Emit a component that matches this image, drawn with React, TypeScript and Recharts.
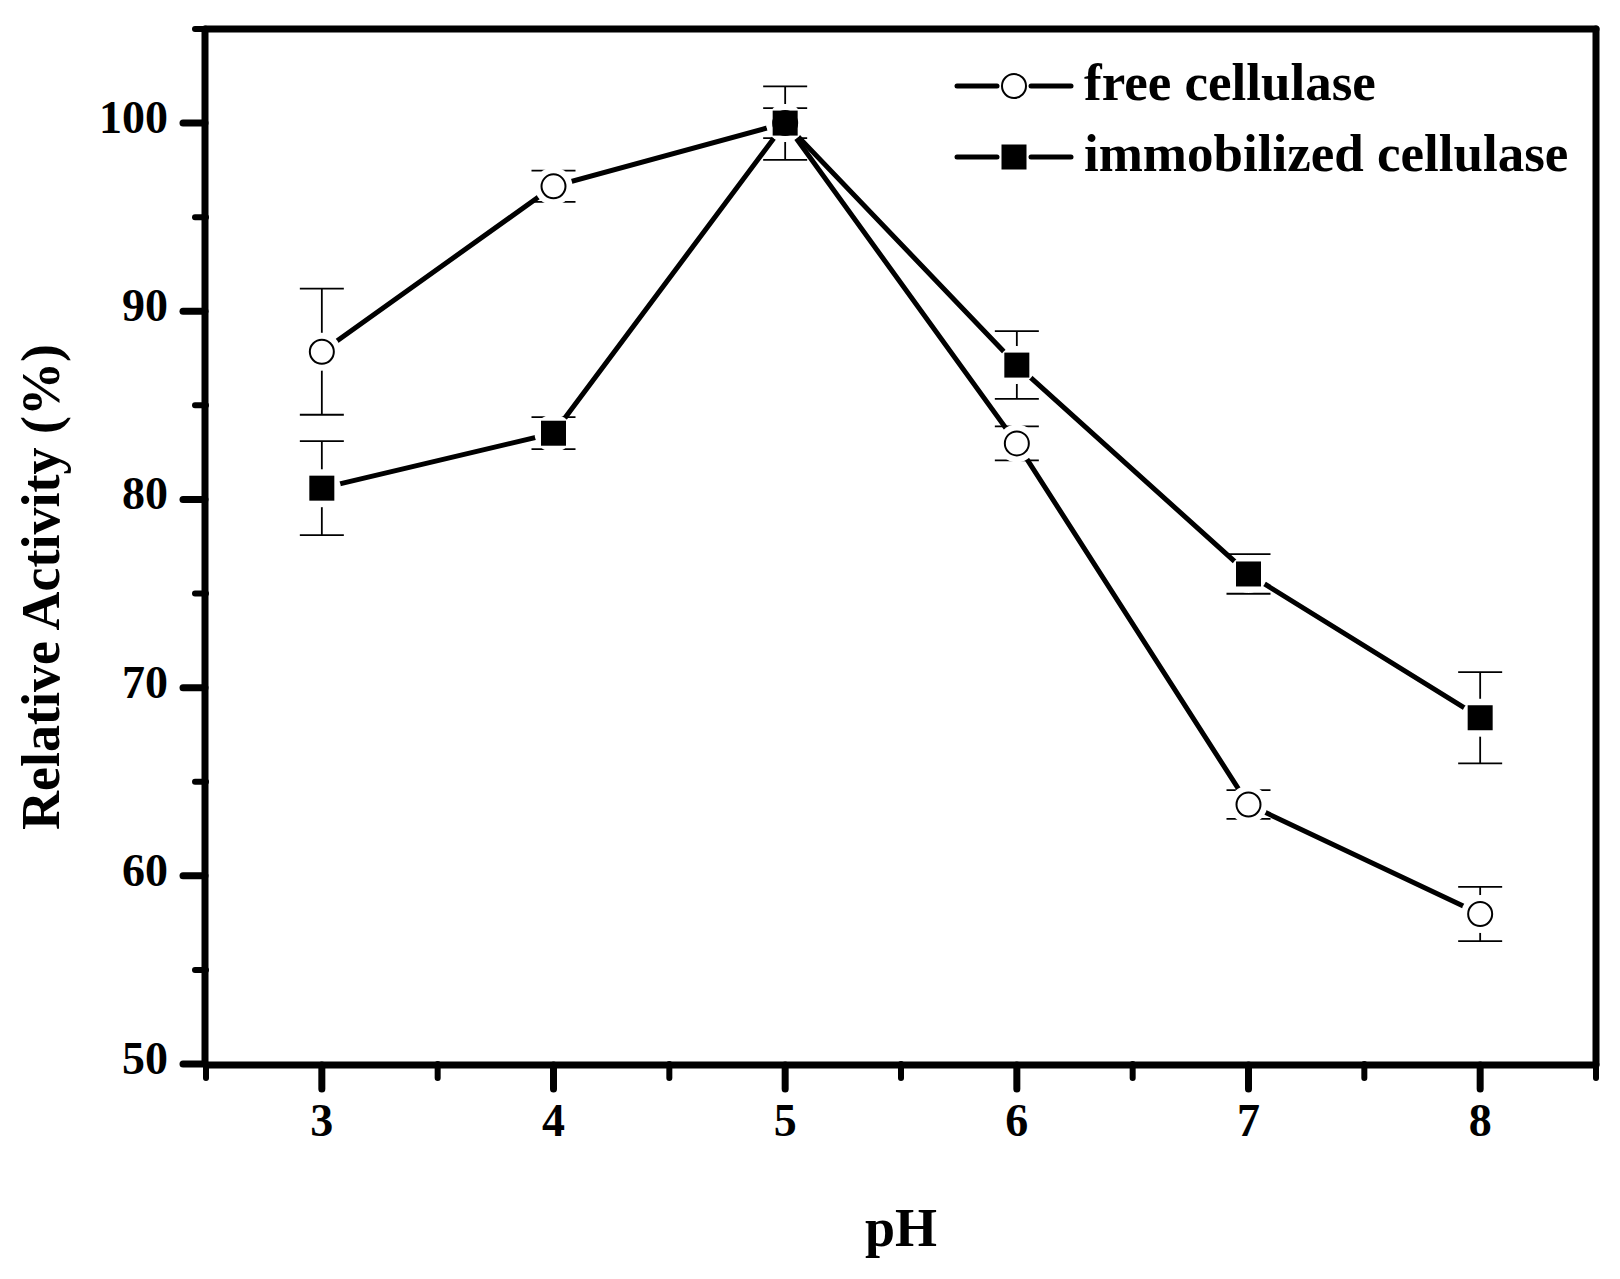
import React from 'react';
import { LineChart, Line, XAxis, YAxis, ErrorBar, Label } from 'recharts';

const phValues = [3, 4, 5, 6, 7, 8];
const freeActivity = [87.85, 96.64, 100, 82.98, 63.79, 57.97];
const freeError = [3.35, 0.83, 1.95, 0.9, 0.76, 1.44];
const immobilizedActivity = [80.6, 83.52, 100, 87.14, 76.04, 68.4];
const immobilizedError = [2.5, 0.85, 0.8, 1.8, 1.05, 2.42];

const xMajorTicks = [3, 4, 5, 6, 7, 8];
const xMinorTicks = [2.5, 3.5, 4.5, 5.5, 6.5, 7.5, 8.5];
const yMajorTicks = [50, 60, 70, 80, 90, 100];
const yMinorTicks = [55, 65, 75, 85, 95, 105];

const seriesNames = ['free cellulase', 'immobilized cellulase'];

const data = phValues.map((ph, i) => ({
  ph,
  free: freeActivity[i],
  freeErr: freeError[i],
  imm: immobilizedActivity[i],
  immErr: immobilizedError[i],
}));

const FONT = '"Liberation Serif", "Times New Roman", serif';
const X_DOMAIN: [number, number] = [2.5, 8.5];
const Y_DOMAIN: [number, number] = [50, 105];
const AXIS_LINE = { stroke: '#000', strokeWidth: 7, strokeLinecap: 'round' as const };
const TICK_LINE = { stroke: '#000', strokeWidth: 7, strokeLinecap: 'round' as const };
const MINOR_TICK_LINE = { stroke: '#000', strokeWidth: 6, strokeLinecap: 'round' as const };

const haloDot = (props: any) => {
  const { cx, cy, index } = props;
  if (cx == null || cy == null) return <g key={`h${index}`} />;
  return <circle key={`h${index}`} cx={cx} cy={cy} r={19} fill="#fff" stroke="none" />;
};

const circleDot = (props: any) => {
  const { cx, cy, index } = props;
  if (cx == null || cy == null) return <g key={`c${index}`} />;
  return <circle key={`c${index}`} cx={cx} cy={cy} r={12} fill="#fff" stroke="#000" strokeWidth={2} />;
};

const squareDot = (props: any) => {
  const { cx, cy, index } = props;
  if (cx == null || cy == null) return <g key={`s${index}`} />;
  return <rect key={`s${index}`} x={cx - 12.5} y={cy - 12.5} width={25} height={25} fill="#000" />;
};

const NoTick = () => <g />;

const XTick = (props: any) => {
  const { x, y, payload } = props;
  return (
    <text x={x} y={y} dy={32} textAnchor="middle" fill="#000" fontSize={46} fontWeight="bold" fontFamily={FONT}>
      {payload.value}
    </text>
  );
};

const YTick = (props: any) => {
  const { x, y, payload } = props;
  return (
    <text x={x} y={y} dy={10} textAnchor="end" fill="#000" fontSize={46} fontWeight="bold" fontFamily={FONT}>
      {payload.value}
    </text>
  );
};

const YTitle = () => (
  <text
    x={59}
    y={587}
    transform="rotate(-90 59 587)"
    textAnchor="middle"
    fill="#000"
    fontSize={54}
    fontWeight="bold"
    fontFamily={FONT}
  >
    Relative Activity (%)
  </text>
);

const LegendOverlay = () => (
  <svg width={1620} height={1279} style={{ position: 'absolute', left: 0, top: 0, pointerEvents: 'none' }}>
    <g>
      <line x1={957} y1={86} x2={997} y2={86} stroke="#000" strokeWidth={5} strokeLinecap="round" />
      <line x1={1031} y1={86} x2={1071} y2={86} stroke="#000" strokeWidth={5} strokeLinecap="round" />
      <circle cx={1014} cy={86} r={12} fill="#fff" stroke="#000" strokeWidth={2} />
      <text x={1084} y={100} fill="#000" fontSize={53} fontWeight="bold" fontFamily={FONT}>
        {seriesNames[0]}
      </text>
    </g>
    <g>
      <line x1={957} y1={157} x2={997} y2={157} stroke="#000" strokeWidth={5} strokeLinecap="round" />
      <line x1={1031} y1={157} x2={1071} y2={157} stroke="#000" strokeWidth={5} strokeLinecap="round" />
      <rect x={1001.5} y={144.5} width={25} height={25} fill="#000" />
      <text x={1084} y={171} fill="#000" fontSize={53} fontWeight="bold" fontFamily={FONT}>
        {seriesNames[1]}
      </text>
    </g>
  </svg>
);

export default function App() {
  return (
    <div style={{ position: 'absolute', left: 0, top: 0, width: 1620, height: 1279, background: '#fff' }}>
      <LineChart
        width={1620}
        height={1279}
        data={data}
        margin={{ top: 28, right: 23, bottom: 134, left: 0 }}
      >
        {/* default axes (id 0): minor ticks, sit on the plot edge */}
        <XAxis
          dataKey="ph"
          type="number"
          domain={X_DOMAIN}
          ticks={xMinorTicks}
          interval={0}
          height={1}
          axisLine={false}
          tick={<NoTick />}
          tickSize={14}
          stroke="#000"
          strokeWidth={6}
          tickLine={MINOR_TICK_LINE}
          allowDataOverflow
        />
        <YAxis
          type="number"
          domain={Y_DOMAIN}
          ticks={yMinorTicks}
          interval={0}
          width={1}
          axisLine={false}
          tick={<NoTick />}
          tickSize={11}
          stroke="#000"
          strokeWidth={6}
          tickLine={MINOR_TICK_LINE}
          allowDataOverflow
        />
        {/* major axes with labels */}
        <XAxis
          xAxisId="major"
          dataKey="ph"
          type="number"
          domain={X_DOMAIN}
          ticks={xMajorTicks}
          interval={0}
          height={80}
          stroke="#000"
          strokeWidth={7}
          axisLine={AXIS_LINE}
          tickLine={TICK_LINE}
          tickSize={24}
          tickMargin={15}
          tick={<XTick />}
          allowDataOverflow
        >
          <Label
            value="pH"
            position="bottom"
            offset={63}
            fill="#000"
            fontSize={54}
            fontWeight="bold"
            fontFamily={FONT}
          />
        </XAxis>
        <YAxis
          yAxisId="major"
          type="number"
          domain={Y_DOMAIN}
          ticks={yMajorTicks}
          interval={0}
          width={205}
          stroke="#000"
          strokeWidth={7}
          axisLine={AXIS_LINE}
          tickLine={TICK_LINE}
          tickSize={22}
          tickMargin={15}
          tick={<YTick />}
          allowDataOverflow
        >
          <Label content={<YTitle />} />
        </YAxis>
        {/* frame: top and right */}
        <XAxis
          xAxisId="top"
          orientation="top"
          dataKey="ph"
          type="number"
          domain={X_DOMAIN}
          height={1}
          stroke="#000"
          strokeWidth={7}
          axisLine={AXIS_LINE}
          tick={<NoTick />}
          tickLine={false}
          allowDataOverflow
        />
        <YAxis
          yAxisId="right"
          orientation="right"
          type="number"
          domain={Y_DOMAIN}
          width={1}
          stroke="#000"
          strokeWidth={7}
          axisLine={AXIS_LINE}
          tick={<NoTick />}
          tickLine={false}
          allowDataOverflow
        />

        {/* connecting lines with white halos (gap to symbol) */}
        <Line
          dataKey="free"
          stroke="#000"
          strokeWidth={5}
          dot={haloDot}
          activeDot={false}
          isAnimationActive={false}
          legendType="none"
        />
        <Line
          dataKey="imm"
          stroke="#000"
          strokeWidth={5}
          dot={haloDot}
          activeDot={false}
          isAnimationActive={false}
          legendType="none"
        />

        {/* error bars and symbols */}
        <Line dataKey="free" stroke="none" dot={false} activeDot={false} isAnimationActive={false} legendType="none">
          <ErrorBar dataKey="freeErr" width={22} stroke="#000" strokeWidth={1.8} direction="y" isAnimationActive={false} />
        </Line>
        <Line
          dataKey="free"
          name={seriesNames[0]}
          stroke="none"
          dot={circleDot}
          activeDot={false}
          isAnimationActive={false}
        />
        <Line dataKey="imm" stroke="none" dot={false} activeDot={false} isAnimationActive={false} legendType="none">
          <ErrorBar dataKey="immErr" width={22} stroke="#000" strokeWidth={1.8} direction="y" isAnimationActive={false} />
        </Line>
        <Line
          dataKey="imm"
          name={seriesNames[1]}
          stroke="none"
          dot={squareDot}
          activeDot={false}
          isAnimationActive={false}
        />
      </LineChart>
      <LegendOverlay />
    </div>
  );
}
